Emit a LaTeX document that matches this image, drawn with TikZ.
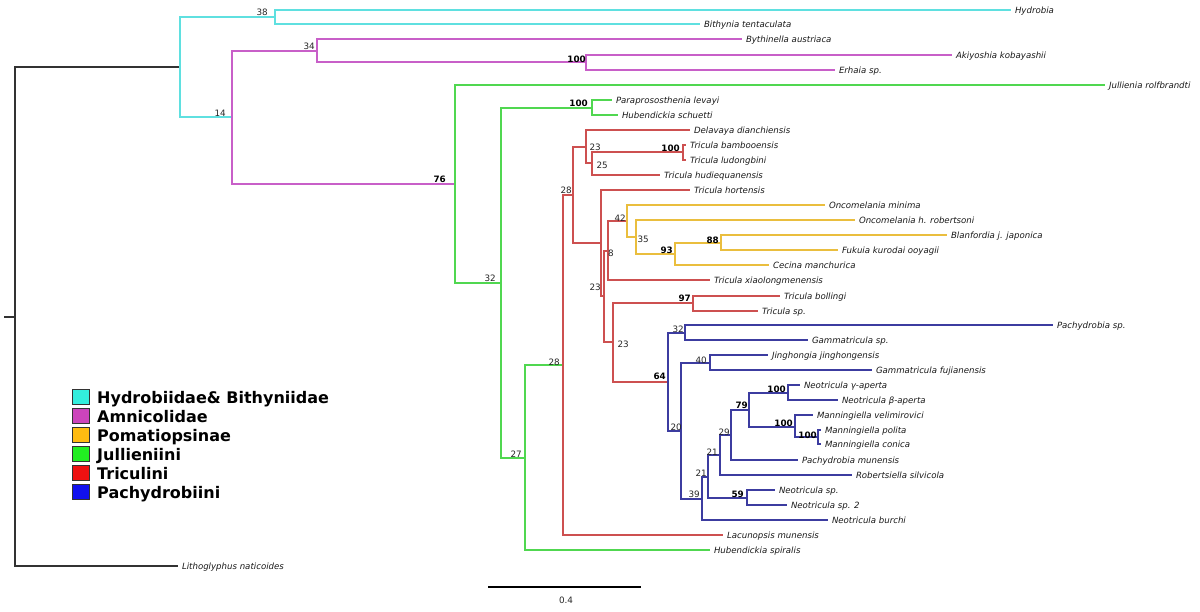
\documentclass[tikz,border=0pt]{standalone}
\usepackage{fontspec}
\setmainfont{DejaVu Sans}
\definecolor{cyb}{RGB}{95,224,224}
\definecolor{mgb}{RGB}{200,95,200}
\definecolor{grb}{RGB}{80,215,80}
\definecolor{rdb}{RGB}{205,80,80}
\definecolor{ylb}{RGB}{234,190,62}
\definecolor{blb}{RGB}{60,60,160}
\definecolor{rtb}{RGB}{50,50,50}
\definecolor{lgcy}{RGB}{51,238,221}
\definecolor{lgmg}{RGB}{204,68,187}
\definecolor{lgyl}{RGB}{255,187,17}
\definecolor{lggr}{RGB}{34,238,34}
\definecolor{lgrd}{RGB}{238,17,17}
\definecolor{lgbl}{RGB}{17,17,238}
\tikzset{
  br/.style={line width=1.1pt},
  bk/.style={br, draw=rtb},
  cy/.style={br, draw=cyb},
  mg/.style={br, draw=mgb},
  gr/.style={br, draw=grb},
  rd/.style={br, draw=rdb},
  yl/.style={br, draw=ylb},
  bl/.style={br, draw=blb},
  leaf/.style={anchor=west, inner xsep=4pt, inner ysep=0pt, outer sep=0pt,
    font=\fontsize{8.6}{10}\selectfont\itshape, text height=6.5pt, text depth=0.5pt, text=black!90},
  bs/.style={anchor=base east, inner sep=0pt, font=\fontsize{8.8}{10}\selectfont, text=black!85},
  bsb/.style={anchor=base east, inner sep=0pt, font=\fontsize{8.8}{10}\selectfont\bfseries, text=black},
  lgsq/.style={draw=black!80, line width=0.8pt, minimum width=17pt, minimum height=15pt, inner sep=0pt, anchor=north west},
  lgtx/.style={anchor=base west, inner sep=0pt, font=\fontsize{16}{18}\selectfont\bfseries, text=black}
}
\begin{document}
\begin{tikzpicture}[x=1pt,y=-1pt]
\useasboundingbox (0,0) rectangle (1200,611);
% internal nodes
\coordinate (root) at (15,317);
\coordinate (stub) at (4,317);
\coordinate (n1) at (180,67);
\coordinate (n38) at (275,17);
\coordinate (n14) at (232,117);
\coordinate (n34) at (317,51);
\coordinate (na) at (586,62);
\coordinate (n76) at (455,184);
\coordinate (n32) at (501,283);
\coordinate (nb) at (592,108);
\coordinate (n27) at (525,458);
\coordinate (n28g) at (563,365);
\coordinate (n28r) at (573,195);
\coordinate (n23a) at (586,147);
\coordinate (n25) at (592,163);
\coordinate (nc) at (683,152);
\coordinate (nA) at (601,243);
\coordinate (nB) at (604,296);
\coordinate (nC) at (608,251);
\coordinate (n42) at (627,221);
\coordinate (n35) at (636,237);
\coordinate (n93) at (675,254);
\coordinate (n88) at (721,243);
\coordinate (nD) at (613,342);
\coordinate (n97) at (693,303);
\coordinate (n64) at (668,382);
\coordinate (n32b) at (685,333);
\coordinate (n20) at (681,431);
\coordinate (n40) at (710,363);
\coordinate (n39) at (702,499);
\coordinate (n21h) at (708,477);
\coordinate (n59) at (747,498);
\coordinate (n21i) at (720,455);
\coordinate (n29) at (731,435);
\coordinate (n79) at (749,410);
\coordinate (nd) at (788,393);
\coordinate (ne) at (795,427);
\coordinate (nf) at (818,437);
% leaves
\node[leaf] (hydrobia) at (1011,10) {Hydrobia};
\node[leaf] (bithynia) at (700,24) {Bithynia tentaculata};
\node[leaf] (bythinella) at (742,39) {Bythinella austriaca};
\node[leaf] (akiyoshia) at (952,55) {Akiyoshia kobayashii};
\node[leaf] (erhaia) at (835,70) {Erhaia sp.};
\node[leaf] (jullienia) at (1105,85) {Jullienia rolfbrandti};
\node[leaf] (paraprosos) at (612,100) {Paraprososthenia levayi};
\node[leaf] (hubschuetti) at (618,115) {Hubendickia schuetti};
\node[leaf] (delavaya) at (690,130) {Delavaya dianchiensis};
\node[leaf] (bamboo) at (686,145) {Tricula bambooensis};
\node[leaf] (ludong) at (686,160) {Tricula ludongbini};
\node[leaf] (hudie) at (660,175) {Tricula hudiequanensis};
\node[leaf] (hortensis) at (690,190) {Tricula hortensis};
\node[leaf] (ominima) at (825,205) {Oncomelania minima};
\node[leaf] (orobert) at (855,220) {Oncomelania h. robertsoni};
\node[leaf] (blanford) at (947,235) {Blanfordia j. japonica};
\node[leaf] (fukuia) at (838,250) {Fukuia kurodai ooyagii};
\node[leaf] (cecina) at (769,265) {Cecina manchurica};
\node[leaf] (xiaolong) at (710,280) {Tricula xiaolongmenensis};
\node[leaf] (bollingi) at (780,296) {Tricula bollingi};
\node[leaf] (triculasp) at (758,311) {Tricula sp.};
\node[leaf] (pachysp) at (1053,325) {Pachydrobia sp.};
\node[leaf] (gammasp) at (808,340) {Gammatricula sp.};
\node[leaf] (jinghong) at (768,355) {Jinghongia jinghongensis};
\node[leaf] (gfujian) at (872,370) {Gammatricula fujianensis};
\node[leaf] (gamma) at (800,385) {Neotricula γ-aperta};
\node[leaf] (beta) at (838,400) {Neotricula β-aperta};
\node[leaf] (velim) at (813,415) {Manningiella velimirovici};
\node[leaf] (polita) at (821,430) {Manningiella polita};
\node[leaf] (conica) at (821,444) {Manningiella conica};
\node[leaf] (pmunensis) at (798,460) {Pachydrobia munensis};
\node[leaf] (robert) at (852,475) {Robertsiella silvicola};
\node[leaf] (neosp) at (775,490) {Neotricula sp.};
\node[leaf] (neosp2) at (787,505) {Neotricula sp. 2};
\node[leaf] (burchi) at (828,520) {Neotricula burchi};
\node[leaf] (lacuno) at (723,535) {Lacunopsis munensis};
\node[leaf] (hubspir) at (710,550) {Hubendickia spiralis};
\node[leaf] (litho) at (178,566) {Lithoglyphus naticoides};
% branches
\draw[bk] (stub) -- (root);
\draw[bk] (root) |- (n1);
\draw[bk] (root) |- (litho);
\draw[cy] (n1) |- (n38);
\draw[cy] (n1) |- (n14);
\draw[cy] (n38) |- (hydrobia);
\draw[cy] (n38) |- (bithynia);
\draw[mg] (n14) |- (n34);
\draw[mg] (n14) |- (n76);
\draw[mg] (n34) |- (bythinella);
\draw[mg] (n34) |- (na);
\draw[mg] (na) |- (akiyoshia);
\draw[mg] (na) |- (erhaia);
\draw[gr] (n76) |- (jullienia);
\draw[gr] (n76) |- (n32);
\draw[gr] (n32) |- (nb);
\draw[gr] (n32) |- (n27);
\draw[gr] (nb) |- (paraprosos);
\draw[gr] (nb) |- (hubschuetti);
\draw[gr] (n27) |- (n28g);
\draw[gr] (n27) |- (hubspir);
\draw[rd] (n28g) |- (n28r);
\draw[rd] (n28g) |- (lacuno);
\draw[rd] (n28r) |- (n23a);
\draw[rd] (n28r) |- (nA);
\draw[rd] (n23a) |- (delavaya);
\draw[rd] (n23a) |- (n25);
\draw[rd] (n25) |- (nc);
\draw[rd] (n25) |- (hudie);
\draw[rd] (nc) |- (bamboo);
\draw[rd] (nc) |- (ludong);
\draw[rd] (nA) |- (hortensis);
\draw[rd] (nA) |- (nB);
\draw[rd] (nB) |- (nC);
\draw[rd] (nB) |- (nD);
\draw[rd] (nC) |- (n42);
\draw[rd] (nC) |- (xiaolong);
\draw[rd] (nD) |- (n97);
\draw[rd] (nD) |- (n64);
\draw[rd] (n97) |- (bollingi);
\draw[rd] (n97) |- (triculasp);
\draw[yl] (n42) |- (ominima);
\draw[yl] (n42) |- (n35);
\draw[yl] (n35) |- (orobert);
\draw[yl] (n35) |- (n93);
\draw[yl] (n93) |- (n88);
\draw[yl] (n93) |- (cecina);
\draw[yl] (n88) |- (blanford);
\draw[yl] (n88) |- (fukuia);
\draw[bl] (n64) |- (n32b);
\draw[bl] (n64) |- (n20);
\draw[bl] (n32b) |- (pachysp);
\draw[bl] (n32b) |- (gammasp);
\draw[bl] (n20) |- (n40);
\draw[bl] (n20) |- (n39);
\draw[bl] (n40) |- (jinghong);
\draw[bl] (n40) |- (gfujian);
\draw[bl] (n39) |- (n21h);
\draw[bl] (n39) |- (burchi);
\draw[bl] (n21h) |- (n21i);
\draw[bl] (n21h) |- (n59);
\draw[bl] (n59) |- (neosp);
\draw[bl] (n59) |- (neosp2);
\draw[bl] (n21i) |- (n29);
\draw[bl] (n21i) |- (robert);
\draw[bl] (n29) |- (n79);
\draw[bl] (n29) |- (pmunensis);
\draw[bl] (n79) |- (nd);
\draw[bl] (n79) |- (ne);
\draw[bl] (nd) |- (gamma);
\draw[bl] (nd) |- (beta);
\draw[bl] (ne) |- (velim);
\draw[bl] (ne) |- (nf);
\draw[bl] (nf) |- (polita);
\draw[bl] (nf) |- (conica);
% support values
\node[bs] (l38) at (268,15) {38};
\node[bs] (l14) at (226,116) {14};
\node[bs] (l34) at (315,49) {34};
\node[bsb] (l100a) at (586,62) {100};
\node[bsb] (l76) at (446,182) {76};
\node[bs] (l32) at (496,281) {32};
\node[bsb] (l100b) at (588,106) {100};
\node[bs] (l27) at (522,457) {27};
\node[bs] (l28g) at (560,365) {28};
\node[bs] (l28r) at (572,193) {28};
\node[bs] (l23a) at (601,150) {23};
\node[bs] (l25) at (608,168) {25};
\node[bsb] (l100c) at (680,151) {100};
\node[bs] (l8) at (614,256) {8};
\node[bs] (l23b) at (601,290) {23};
\node[bs] (l42) at (626,221) {42};
\node[bs] (l35) at (649,242) {35};
\node[bsb] (l93) at (673,253) {93};
\node[bsb] (l88) at (719,243) {88};
\node[bs] (l23d) at (629,347) {23};
\node[bsb] (l97) at (691,301) {97};
\node[bsb] (l64) at (666,379) {64};
\node[bs] (l32b) at (684,332) {32};
\node[bs] (l40) at (707,363) {40};
\node[bs] (l20) at (682,430) {20};
\node[bsb] (l100d) at (786,392) {100};
\node[bsb] (l79) at (748,408) {79};
\node[bsb] (l100e) at (793,426) {100};
\node[bsb] (l100f) at (817,438) {100};
\node[bs] (l29) at (730,435) {29};
\node[bs] (l21i) at (718,455) {21};
\node[bs] (l21h) at (707,476) {21};
\node[bs] (l39) at (700,497) {39};
\node[bsb] (l59) at (744,497) {59};
% legend
\node[lgsq, fill=lgcy] (sq1) at (72,389) {};
\node[lgsq, fill=lgmg] (sq2) at (72,408) {};
\node[lgsq, fill=lgyl] (sq3) at (72,427) {};
\node[lgsq, fill=lggr] (sq4) at (72,446) {};
\node[lgsq, fill=lgrd] (sq5) at (72,465) {};
\node[lgsq, fill=lgbl] (sq6) at (72,484) {};
\node[lgtx] (t1) at (97,403) {Hydrobiidae\& Bithyniidae};
\node[lgtx] (t2) at (97,422) {Amnicolidae};
\node[lgtx] (t3) at (97,441) {Pomatiopsinae};
\node[lgtx] (t4) at (97,460) {Jullieniini};
\node[lgtx] (t5) at (97,479) {Triculini};
\node[lgtx] (t6) at (97,498) {Pachydrobiini};
% scale bar
\coordinate (sbl) at (488,587);
\coordinate (sbr) at (641,587);
\draw[line width=2.6pt, black] (sbl) -- (sbr);
\node[font=\fontsize{8.8}{10}\selectfont, text=black!85, inner sep=0pt] (sbt) at (566,600) {0.4};
\end{tikzpicture}
\end{document}
